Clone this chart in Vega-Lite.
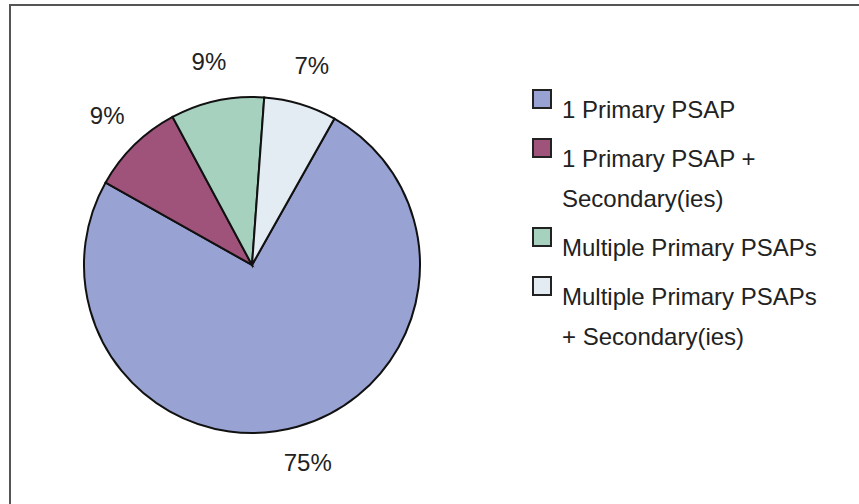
{
  "$schema": "https://vega.github.io/schema/vega-lite/v6.json",
  "width": 1000,
  "height": 700,
  "autosize": {"type": "none"},
  "padding": {"left": 10, "top": 5, "right": 0, "bottom": 0},
  "background": "white",
  "view": {"stroke": "#555555", "strokeWidth": 2},
  "config": {
    "view": {"stroke": "#555555", "strokeWidth": 2},
    "font": "Liberation Sans",
    "style": {"guide-label": {"lineHeight": 40}}
  },
  "data": {
    "values": [
      {"category": "1 Primary PSAP", "value": 75, "k": 1, "label": "75%"},
      {"category": "1 Primary PSAP + Secondary(ies)", "value": 9, "k": 2, "label": "9%"},
      {"category": "Multiple Primary PSAPs", "value": 9, "k": 3, "label": "9%"},
      {"category": "Multiple Primary PSAPs + Secondary(ies)", "value": 7, "k": 4, "label": "7%"}
    ]
  },
  "encoding": {
    "theta": {"field": "value", "type": "quantitative", "stack": true, "scale": {"range": [0.513, 6.796]}},
    "order": {"field": "k", "type": "quantitative"}
  },
  "layer": [
    {
      "mark": {"type": "arc", "radius": 168, "stroke": "#111111", "strokeWidth": 2, "x": {"expr": "width*0.242"}, "y": {"expr": "height*0.3714"}},
      "encoding": {
        "color": {
          "field": "category",
          "type": "nominal",
          "sort": ["1 Primary PSAP", "1 Primary PSAP + Secondary(ies)", "Multiple Primary PSAPs", "Multiple Primary PSAPs + Secondary(ies)"],
          "scale": {"range": ["#99A3D3", "#A0537A", "#A6D1BF", "#E4ECF3"]},
          "legend": {
            "title": null,
            "orient": "none",
            "legendX": 520,
            "legendY": 82,
            "symbolType": "square",
            "symbolSize": 324,
            "symbolStrokeColor": "#222222",
            "symbolStrokeWidth": 2,
            "symbolOpacity": 1,
            "labelFontSize": 24,
            "labelColor": "#222222",
            "labelFont": "Liberation Sans",
            "labelLimit": 400,
            "labelOffset": 8,
            "labelBaseline": "top",
            "rowPadding": 12,
            "labelExpr": "datum.label == '1 Primary PSAP + Secondary(ies)' ? ['1 Primary PSAP +', 'Secondary(ies)'] : datum.label == 'Multiple Primary PSAPs + Secondary(ies)' ? ['Multiple Primary PSAPs', '+ Secondary(ies)'] : datum.label"
          }
        }
      }
    },
    {
      "mark": {"type": "text", "radius": 207, "fontSize": 24, "color": "#222222", "x": {"expr": "width*0.242"}, "y": {"expr": "height*0.3714"}},
      "encoding": {
        "text": {"field": "label", "type": "nominal"}
      }
    }
  ]
}
